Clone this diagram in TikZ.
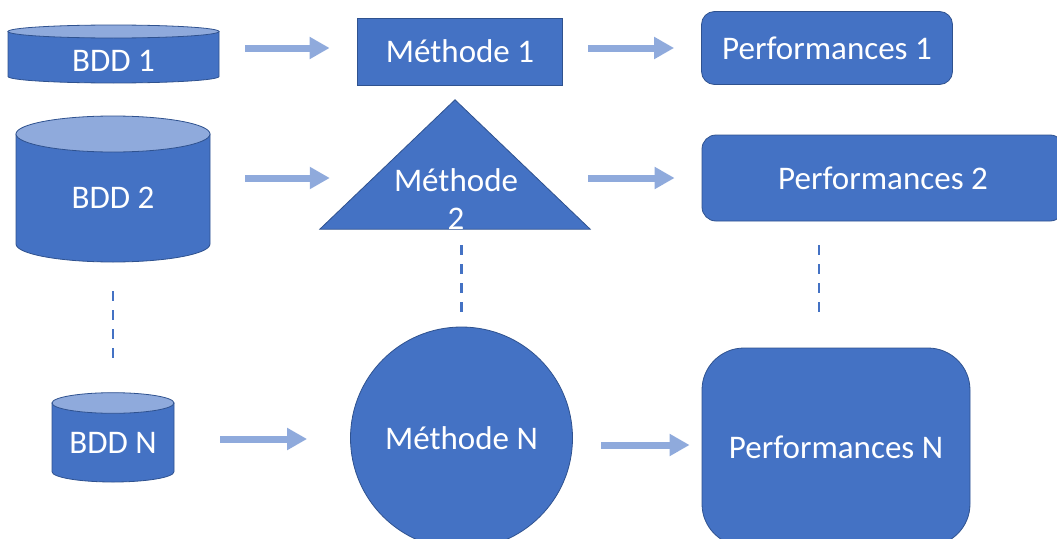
\documentclass[tikz,border=0pt]{standalone}
\usepackage{fontspec}
\setmainfont{Carlito}
\usepackage{tikz}
\usetikzlibrary{arrows.meta}
\usepackage{xcolor}
\definecolor{boxblue}{RGB}{68,114,196}
\definecolor{edgeblue}{RGB}{47,82,143}
\definecolor{lightblue}{RGB}{143,170,220}
\newcommand{\dbshape}[5]{%
  \filldraw[dbbody] (#1-#2,-#3) -- (#1-#2,-#4+#5)
    arc[start angle=180,end angle=360,x radius=#2,y radius=#5] -- (#1+#2,-#3) -- cycle;
  \filldraw[dbtop] (#1,-#3) ellipse[x radius=#2,y radius=#5];}

\begin{document}
\begin{tikzpicture}[x=1pt,y=1pt,
    txt/.style={text=white,font=\fontsize{33}{38}\selectfont,align=center,inner sep=0pt},
    box/.style={txt,draw=edgeblue,fill=boxblue,line width=0.8pt},
    dbbody/.style={draw=edgeblue,fill=boxblue,line width=0.8pt},
    dbtop/.style={draw=edgeblue,fill=lightblue,line width=0.8pt},
    flow/.style={draw=lightblue,line width=7pt,-{Triangle[length=20pt,width=21pt]}},
    dashline/.style={draw=boxblue,line width=2.5pt,dash pattern=on 10pt off 9pt}]

    \useasboundingbox (0,0) rectangle (1057,-538);
    \clip (0,0) rectangle (1057,-538);

    \dbshape{113.5}{105.5}{31.5}{83}{6.5}
    \dbshape{113}{97}{134}{262}{18}
    \dbshape{113}{61}{403}{482}{10.3}

    \node[txt,minimum width=211pt,minimum height=45pt] (bdd1) at (113.5,-60.5) {BDD 1};
    \node[txt,minimum width=194pt,minimum height=92pt] (bdd2) at (113,-198) {BDD 2};
    \node[txt,minimum width=122pt,minimum height=58pt] (bddN) at (113,-443) {BDD N};

    \node[box,minimum width=205pt,minimum height=67pt] (m1) at (460,-51.5) {Méthode 1};
    \node[minimum width=270pt,minimum height=129pt,inner sep=0pt] (m2) at (455,-164.5) {};
    \filldraw[dbbody] (m2.south west) -- (m2.north) -- (m2.south east) -- cycle;
    \node[txt] (m2txt) at (456,-199) {Méthode\\2};
    \node[box,circle,minimum size=222pt] (mN) at (461.5,-438) {Méthode N};

    \node[box,rounded corners=13pt,minimum width=251pt,minimum height=73pt] (p1) at (827,-48) {Performances 1};
    \node[box,rounded corners=14pt,minimum width=362pt,minimum height=86pt] (p2) at (883,-178) {Performances 2};
    \node[box,rounded corners=42pt,minimum width=268pt,minimum height=198pt] (pN) at (836,-447) {Performances N};

    \draw[flow,shorten <=26pt,shorten >=27.5pt] ([yshift=3.5pt]m1.west -| bdd1.east) -- ([yshift=3.5pt]m1.west);
    \draw[flow,shorten <=25.5pt,shorten >=27pt] (m1.east |- p1.west) -- (p1.west);
    \draw[flow,shorten <=35pt,shorten >=-10pt] ([yshift=-13.5pt]m2.west -| bdd2.east) -- ([yshift=-13.5pt]m2.west);
    \draw[flow,shorten <=-2pt,shorten >=27pt] (m2.east |- p2.west) -- (p2.west);
    \draw[flow,shorten <=46pt,shorten >=43pt] ([yshift=-1pt]mN.west -| bddN.east) -- ([yshift=-1pt]mN.west);
    \draw[flow,shorten <=28.5pt,shorten >=12pt] ([yshift=2pt]pN.west -| mN.east) -- ([yshift=2pt]pN.west);

    \draw[dashline,shorten <=47pt,shorten >=56pt] (bdd2.south) -- (bddN.north);
    \draw[dashline,shorten <=16pt,shorten >=15pt] (mN.north |- m2.south) -- (mN.north);
    \draw[dashline,shorten <=24pt,shorten >=36pt] ([xshift=-17pt]pN.north |- p2.south) -- ([xshift=-17pt]pN.north);
  \end{tikzpicture}
\end{document}
